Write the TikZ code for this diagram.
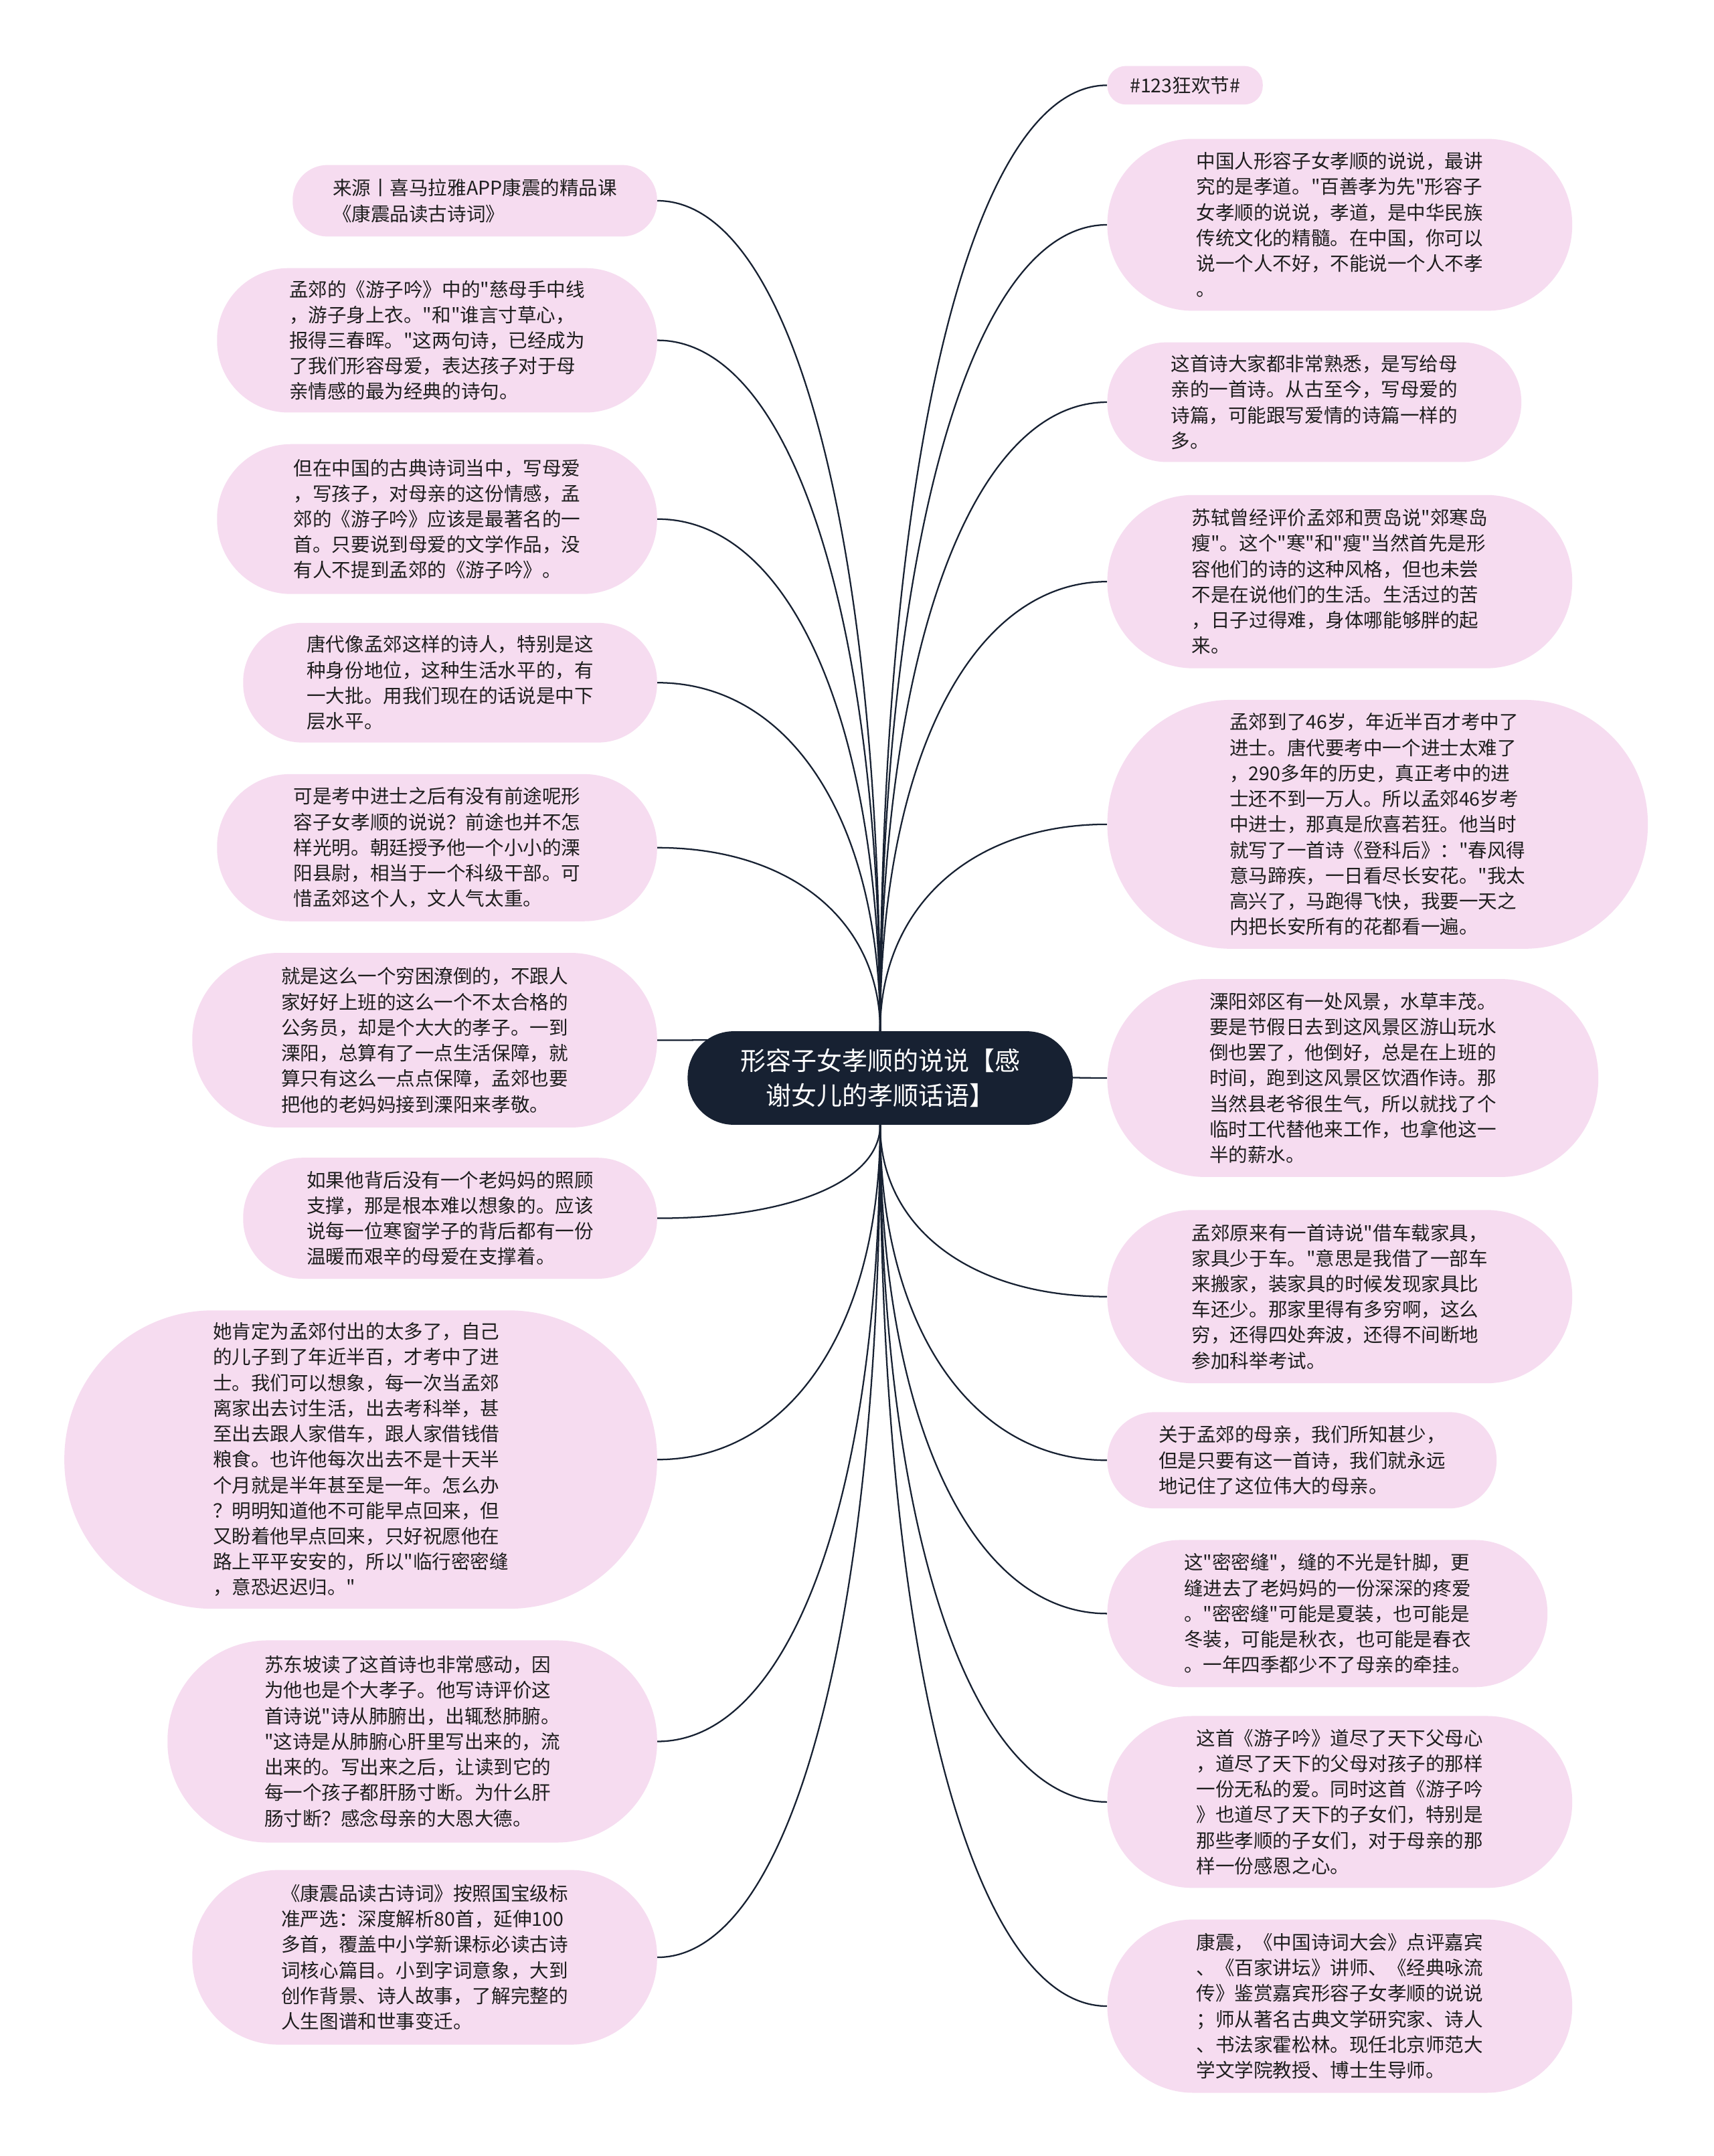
\documentclass[tikz,border=0pt]{standalone}
\usepackage{fontspec}
\newfontfamily\cjk{Noto Sans CJK SC}
\usetikzlibrary{calc,backgrounds}
\definecolor{pinkfill}{RGB}{246,220,240}
\definecolor{navy}{RGB}{23,33,50}
\definecolor{txt}{RGB}{30,30,30}
\begin{document}
\begin{tikzpicture}[x=1pt,y=-1pt,
  leaf/.style={shape=rectangle, fill=pinkfill, text=txt, align=left,
    font=\cjk\fontsize{13.9}{18.6}\selectfont, inner sep=0pt},
  pill/.style n args={2}{minimum width=#1pt, minimum height=#2pt, rounded corners={(#2)*0.5pt-0.6pt}},
  leftleaf/.style n args={2}{leaf, anchor=east, pill={#1}{#2}},
  rightleaf/.style n args={2}{leaf, anchor=west, pill={#1}{#2}},
  rootbox/.style={shape=rectangle, fill=navy, text=white, align=center,
    font=\cjk\fontsize{18.5}{25}\selectfont, inner sep=0pt, pill={280}{68}},
  conn/.style={draw=navy, line width=1.1pt}]
\useasboundingbox (0,0) rectangle (1246,1568);

\node[rootbox] (root) at (640,784) {形容子女孝顺的说说【感\\谢女儿的孝顺话语】};

% left column
\node[leftleaf={265}{52}] (L1) at (478,146) {来源丨喜马拉雅APP康震的精品课\\《康震品读古诗词》};
\node[leftleaf={320}{105}] (L2) at (478,247.5) {孟郊的《游子吟》中的"慈母手中线\\，游子身上衣。"和"谁言寸草心，\\报得三春晖。"这两句诗，已经成为\\了我们形容母爱，表达孩子对于母\\亲情感的最为经典的诗句。};
\node[leftleaf={320}{109}] (L3) at (478,377.5) {但在中国的古典诗词当中，写母爱\\，写孩子，对母亲的这份情感，孟\\郊的《游子吟》应该是最著名的一\\首。只要说到母爱的文学作品，没\\有人不提到孟郊的《游子吟》。};
\node[leftleaf={301}{87}] (L4) at (478,496.5) {唐代像孟郊这样的诗人，特别是这\\种身份地位，这种生活水平的，有\\一大批。用我们现在的话说是中下\\层水平。};
\node[leftleaf={320}{107}] (L5) at (478,616.5) {可是考中进士之后有没有前途呢形\\容子女孝顺的说说？前途也并不怎\\样光明。朝廷授予他一个小小的溧\\阳县尉，相当于一个科级干部。可\\惜孟郊这个人，文人气太重。};
\node[leftleaf={338}{127}] (L6) at (478,756.5) {就是这么一个穷困潦倒的，不跟人\\家好好上班的这么一个不太合格的\\公务员，却是个大大的孝子。一到\\溧阳，总算有了一点生活保障，就\\算只有这么一点点保障，孟郊也要\\把他的老妈妈接到溧阳来孝敬。};
\node[leftleaf={301}{88}] (L7) at (478,886) {如果他背后没有一个老妈妈的照顾\\支撑，那是根本难以想象的。应该\\说每一位寒窗学子的背后都有一份\\温暖而艰辛的母爱在支撑着。};
\node[leftleaf={431}{217}] (L8) at (478,1061.5) {她肯定为孟郊付出的太多了，自己\\的儿子到了年近半百，才考中了进\\士。我们可以想象，每一次当孟郊\\离家出去讨生活，出去考科举，甚\\至出去跟人家借车，跟人家借钱借\\粮食。也许他每次出去不是十天半\\个月就是半年甚至是一年。怎么办\\？明明知道他不可能早点回来，但\\又盼着他早点回来，只好祝愿他在\\路上平平安安的，所以"临行密密缝\\，意恐迟迟归。"};
\node[leftleaf={356}{147}] (L9) at (478,1266.5) {苏东坡读了这首诗也非常感动，因\\为他也是个大孝子。他写诗评价这\\首诗说"诗从肺腑出，出辄愁肺腑。\\"这诗是从肺腑心肝里写出来的，流\\出来的。写出来之后，让读到它的\\每一个孩子都肝肠寸断。为什么肝\\肠寸断？感念母亲的大恩大德。};
\node[leftleaf={338}{127}] (L10) at (478,1423.5) {《康震品读古诗词》按照国宝级标\\准严选：深度解析80首，延伸100\\多首，覆盖中小学新课标必读古诗\\词核心篇目。小到字词意象，大到\\创作背景、诗人故事，了解完整的\\人生图谱和世事变迁。};

% right column
\node[rightleaf={113}{28}] (R1) at (805,62) {\#123狂欢节\#};
\node[rightleaf={338}{125}] (R2) at (805,163.5) {中国人形容子女孝顺的说说，最讲\\究的是孝道。"百善孝为先"形容子\\女孝顺的说说，孝道，是中华民族\\传统文化的精髓。在中国，你可以\\说一个人不好，不能说一个人不孝\\。};
\node[rightleaf={301}{87}] (R3) at (805,292.5) {这首诗大家都非常熟悉，是写给母\\亲的一首诗。从古至今，写母爱的\\诗篇，可能跟写爱情的诗篇一样的\\多。};
\node[rightleaf={338}{126}] (R4) at (805,423) {苏轼曾经评价孟郊和贾岛说"郊寒岛\\瘦"。这个"寒"和"瘦"当然首先是形\\容他们的诗的这种风格，但也未尝\\不是在说他们的生活。生活过的苦\\，日子过得难，身体哪能够胖的起\\来。};
\node[rightleaf={393}{181}] (R5) at (805,599.5) {孟郊到了46岁，年近半百才考中了\\进士。唐代要考中一个进士太难了\\，290多年的历史，真正考中的进\\士还不到一万人。所以孟郊46岁考\\中进士，那真是欣喜若狂。他当时\\就写了一首诗《登科后》："春风得\\意马蹄疾，一日看尽长安花。"我太\\高兴了，马跑得飞快，我要一天之\\内把长安所有的花都看一遍。};
\node[rightleaf={357}{144}] (R6) at (805,784) {溧阳郊区有一处风景，水草丰茂。\\要是节假日去到这风景区游山玩水\\倒也罢了，他倒好，总是在上班的\\时间，跑到这风景区饮酒作诗。那\\当然县老爷很生气，所以就找了个\\临时工代替他来工作，也拿他这一\\半的薪水。};
\node[rightleaf={338}{126}] (R7) at (805,943) {孟郊原来有一首诗说"借车载家具，\\家具少于车。"意思是我借了一部车\\来搬家，装家具的时候发现家具比\\车还少。那家里得有多穷啊，这么\\穷，还得四处奔波，还得不间断地\\参加科举考试。};
\node[rightleaf={283}{70}] (R8) at (805,1062) {关于孟郊的母亲，我们所知甚少，\\但是只要有这一首诗，我们就永远\\地记住了这位伟大的母亲。};
\node[rightleaf={320}{107}] (R9) at (805,1173.5) {这"密密缝"，缝的不光是针脚，更\\缝进去了老妈妈的一份深深的疼爱\\。"密密缝"可能是夏装，也可能是\\冬装，可能是秋衣，也可能是春衣\\。一年四季都少不了母亲的牵挂。};
\node[rightleaf={338}{125}] (R10) at (805,1310.5) {这首《游子吟》道尽了天下父母心\\，道尽了天下的父母对孩子的那样\\一份无私的爱。同时这首《游子吟\\》也道尽了天下的子女们，特别是\\那些孝顺的子女们，对于母亲的那\\样一份感恩之心。};
\node[rightleaf={338}{126}] (R11) at (805,1459) {康震，《中国诗词大会》点评嘉宾\\、《百家讲坛》讲师、《经典咏流\\传》鉴赏嘉宾形容子女孝顺的说说\\；师从著名古典文学研究家、诗人\\、书法家霍松林。现任北京师范大\\学文学院教授、博士生导师。};

\begin{scope}[on background layer]
\fill[white] (0,0) rectangle (1246,1568);
\foreach \t in {L1,L2,L3,L4,L5,L6}
  \draw[conn] (root.north) .. controls ($(root.north)!0.6!(root.north |- \t.east)$) and ($(\t.east)!0.6!(root.north |- \t.east)$) .. (\t.east);
\foreach \t in {L7,L8,L9,L10}
  \draw[conn] (root.south) .. controls ($(root.south)!0.6!(root.south |- \t.east)$) and ($(\t.east)!0.6!(root.south |- \t.east)$) .. (\t.east);
\foreach \t in {R1,R2,R3,R4,R5,R6}
  \draw[conn] (root.north) .. controls ($(root.north)!0.6!(root.north |- \t.west)$) and ($(\t.west)!0.6!(root.north |- \t.west)$) .. (\t.west);
\foreach \t in {R7,R8,R9,R10,R11}
  \draw[conn] (root.south) .. controls ($(root.south)!0.6!(root.south |- \t.west)$) and ($(\t.west)!0.6!(root.south |- \t.west)$) .. (\t.west);
\end{scope}
\end{tikzpicture}
\end{document}
